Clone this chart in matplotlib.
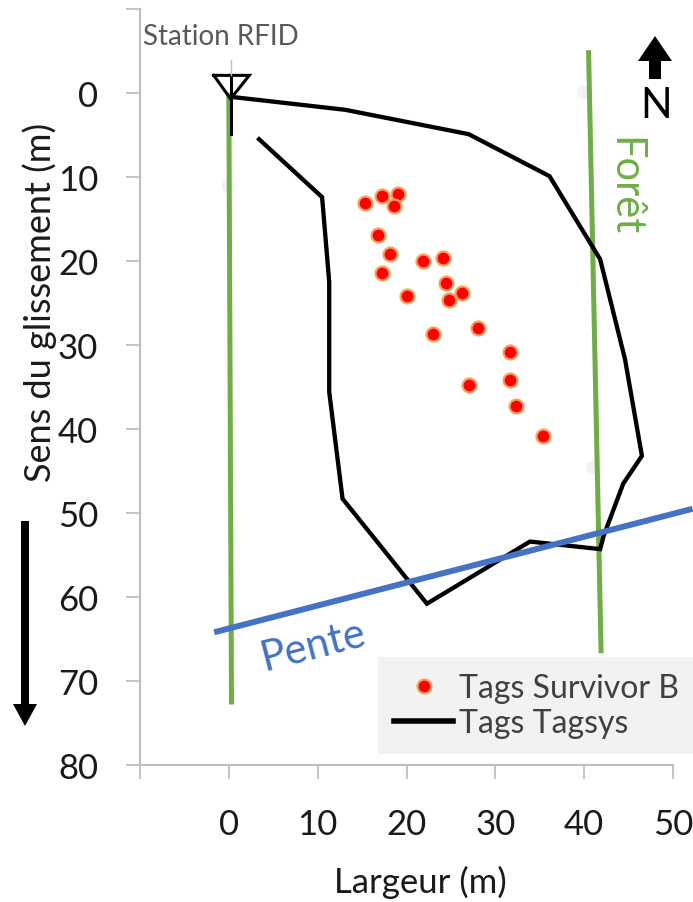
import matplotlib
matplotlib.use('Agg')
import matplotlib.pyplot as plt
from matplotlib.patches import Polygon

plt.rcParams['font.family'] = ['Lato', 'DejaVu Sans']

W, H = 693, 903

# survivor B tags (m)
survivor_x = [15.3, 17.2, 19.0, 18.6, 16.8, 18.1, 17.2, 21.9, 24.1, 24.4,
              26.3, 24.8, 20.0, 28.0, 23.0, 31.6, 31.7, 27.0, 32.3, 35.4]
survivor_y = [13.1, 12.3, 12.0, 13.5, 16.9, 19.2, 21.4, 20.0, 19.6, 22.6,
              23.8, 24.6, 24.2, 28.0, 28.7, 30.8, 34.2, 34.8, 37.3, 40.8]

# tagsys outline (m)
tagsys_x = [0.6, 13.1, 27.0, 36.1, 41.8, 44.6, 46.5, 44.4, 42.2, 41.8,
            33.9, 22.3, 12.8, 11.3, 11.3, 10.5, 3.4]
tagsys_y = [0.5, 2.0, 4.9, 9.9, 19.8, 31.7, 43.2, 46.5, 52.7, 54.3,
            53.4, 60.8, 48.3, 35.6, 22.5, 12.4, 5.5]

# forest edges and slope line
foret_left_x = [0.0, 0.3]
foret_left_y = [0.3, 72.5]
foret_right_x = [40.5, 41.9]
foret_right_y = [-4.8, 66.4]
pente_x = [-1.65, 52.2]
pente_y = [64.2, 49.5]

# faint leftover markers
ghost_x = [-0.1, 39.9, 41.0]
ghost_y = [11.1, -0.1, 44.5]

xticks = [-10, 0, 10, 20, 30, 40, 50]
xticklabels = ['', '0', '10', '20', '30', '40', '50']
yticks = [-10, 0, 10, 20, 30, 40, 50, 60, 70, 80]
yticklabels = ['', '0', '10', '20', '30', '40', '50', '60', '70', '80']

GREEN = '#70AD47'
BLUE = '#4472C4'
GREY = '#BFBFBF'


def fx(px):
    return px / W


def fy(py):
    return 1 - py / H


fig = plt.figure(figsize=(W / 100, H / 100), dpi=100)
ax = fig.add_axes([fx(140), fy(766), (673 - 140) / W, (766 - 10) / H])

ax.plot(ghost_x, ghost_y, 'o', ms=9, color='#F2F2F2', zorder=1)
ax.plot(foret_left_x, foret_left_y, color=GREEN, lw=3.6, zorder=2)
ax.plot(foret_right_x, foret_right_y, color=GREEN, lw=3.6, zorder=2)
ax.plot(tagsys_x, tagsys_y, color='black', lw=3.1, zorder=3,
        solid_joinstyle='miter')
ax.plot(pente_x, pente_y, color=BLUE, lw=4.3, zorder=4, clip_on=False,
        solid_capstyle='butt')
ax.plot(survivor_x, survivor_y, 'o', ms=10, mfc='#FF0000', mec='#F6A05E',
        mew=1.6, zorder=5)

# RFID station antenna
ax.plot([-1.7, 2.3, 0.2, -1.7], [-2.1, -2.1, 0.7, -2.1], color='black',
        lw=2.2, zorder=6, clip_on=False, solid_joinstyle='miter')
ax.plot([0.2, 0.2], [-2.1, 4.9], color='black', lw=2.2, zorder=6)
ax.plot([0.2, 0.2], [-3.9, -2.1], color=GREY, lw=1, zorder=6, clip_on=False)

ax.set_xlim(-10, 50)
ax.set_ylim(80, -10)
ax.set_xticks(xticks)
ax.set_xticklabels(xticklabels)
ax.set_yticks(yticks)
ax.set_yticklabels(yticklabels)

for s in ['top', 'right']:
    ax.spines[s].set_visible(False)
for s in ['left', 'bottom']:
    ax.spines[s].set_color(GREY)
    ax.spines[s].set_linewidth(1.5)
ax.tick_params(axis='both', direction='out', length=10, width=1.3,
               color=GREY, labelsize=25, labelcolor='#1a1a1a')
ax.tick_params(axis='x', pad=21)
ax.tick_params(axis='y', pad=20)

fig.text(fx(40), fy(302), 'Sens du glissement (m)', rotation=90,
         ha='center', va='center', fontsize=26, color='#1a1a1a')
fig.text(fx(420), fy(882), 'Largeur (m)', ha='center', va='center',
         fontsize=25, color='#1a1a1a')
fig.text(fx(143), fy(45), 'Station RFID', ha='left', va='baseline',
         fontsize=20, color='#595959')
fig.text(fx(624), fy(187), 'Forêt', rotation=-90, ha='center', va='center',
         fontsize=30, color=GREEN)
fig.text(fx(313), fy(646), 'Pente', rotation=14.4, rotation_mode='anchor',
         ha='center', va='center', fontsize=30, color=BLUE)
fig.text(fx(656), fy(118), 'N', ha='center', va='baseline', fontsize=30,
         color='black')

# north arrow and slide direction arrow
north = [(649, 80), (661, 80), (661, 62), (672, 62), (655, 37), (638, 62), (649, 62)]
down = [(21, 522), (29, 522), (29, 705), (37, 705), (25, 727), (13, 705), (21, 705)]
for pts in (north, down):
    fig.patches.append(Polygon([(fx(a), fy(b)) for a, b in pts], closed=True,
                               transform=fig.transFigure, facecolor='black',
                               edgecolor='none'))

h1, = ax.plot([], [], 'o', ms=10, mfc='#FF0000', mec='#F6A05E', mew=1.6)
h2, = ax.plot([], [], color='black', lw=4)
leg = ax.legend([h1, h2], ['Tags Survivor B', 'Tags Tagsys'],
                loc='lower left', bbox_to_anchor=(fx(378), fy(755)),
                bbox_transform=fig.transFigure, borderaxespad=0,
                fontsize=23, frameon=True, fancybox=False, framealpha=1,
                borderpad=0.5, handlelength=1.85, handletextpad=0.2,
                labelspacing=0.15)
leg.get_frame().set_facecolor('#F2F2F2')
leg.get_frame().set_edgecolor('none')
for t in leg.get_texts():
    t.set_color('#404040')

fig.savefig('out.png', dpi=100)
